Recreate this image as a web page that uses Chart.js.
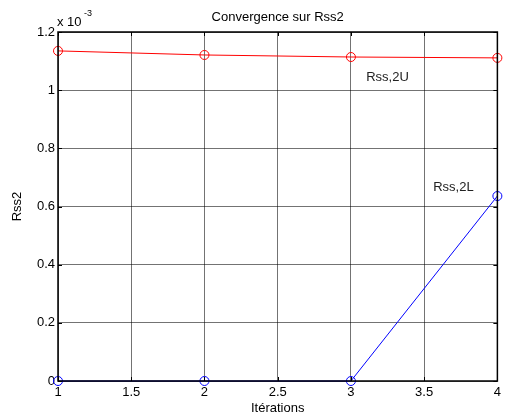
<!DOCTYPE html>
<html>
<head>
<meta charset="utf-8">
<script src="https://cdn.jsdelivr.net/npm/chart.js@4"></script>
<style>
  body { margin: 0; background: #fff; }
  canvas { display: block; }
</style>
</head>
<body>
<canvas id="rssChart" width="505" height="418"></canvas>
<script>
const iterations = [1, 2, 3, 4]
const rss2U = [1.135e-3, 1.121e-3, 1.114e-3, 1.111e-3]
const rss2L = [0, 0, 0, 0.636e-3]
const xTicks = [1, 1.5, 2, 2.5, 3, 3.5, 4]
const yTicks = [0, 0.2e-3, 0.4e-3, 0.6e-3, 0.8e-3, 1.0e-3, 1.2e-3]
const labels = [
  { text: 'Rss,2U', x: 3.25, y: 1.045e-3 },
  { text: 'Rss,2L', x: 3.7, y: 0.667e-3 }
]

const FONT = '"Liberation Sans", Arial, sans-serif'

const matlabFrame = {
  id: 'matlabFrame',
  afterDatasetsDraw(chart) {
    const ctx = chart.ctx
    const a = chart.chartArea
    const xs = chart.scales.x
    const ys = chart.scales.y
    ctx.save()
    // little inward ticks
    ctx.strokeStyle = '#000'
    ctx.lineWidth = 1
    ctx.beginPath()
    xTicks.forEach(v => {
      const px = Math.round(xs.getPixelForValue(v)) + 0.5
      ctx.moveTo(px, a.bottom); ctx.lineTo(px, a.bottom - 4)
      ctx.moveTo(px, a.top); ctx.lineTo(px, a.top + 4)
    })
    yTicks.forEach(v => {
      const py = Math.round(ys.getPixelForValue(v)) + 0.5
      ctx.moveTo(a.left, py); ctx.lineTo(a.left + 4, py)
      ctx.moveTo(a.right, py); ctx.lineTo(a.right - 4, py)
    })
    ctx.stroke()
    // box
    ctx.lineWidth = 1.5
    ctx.strokeRect(a.left, a.top, a.right - a.left, a.bottom - a.top)

    ctx.fillStyle = '#222'
    ctx.textBaseline = 'middle'
    ctx.textAlign = 'center'
    ctx.font = '13px ' + FONT
    labels.forEach(l => {
      ctx.fillText(l.text, xs.getPixelForValue(l.x), ys.getPixelForValue(l.y))
    })

    // title and axis titles
    ctx.fillStyle = '#000'
    ctx.font = '13px ' + FONT
    ctx.fillText('Convergence sur Rss2', (a.left + a.right) / 2, 17)
    ctx.fillText('Itérations', (a.left + a.right) / 2, 408)
    ctx.save()
    ctx.translate(17, (a.top + a.bottom) / 2)
    ctx.rotate(-Math.PI / 2)
    ctx.fillText('Rss2', 0, 0)
    ctx.restore()

    // exponent
    ctx.textAlign = 'left'
    ctx.font = '13px ' + FONT
    ctx.fillText('x 10', 57, 22)
    ctx.font = '9px ' + FONT
    ctx.fillText('-3', 84, 14)
    ctx.restore()
  }
}

new Chart(document.getElementById('rssChart'), {
  type: 'line',
  data: {
    datasets: [
      {
        label: 'Rss,2U',
        data: iterations.map((x, i) => ({ x: x, y: rss2U[i] })),
        borderColor: '#ff0000',
        backgroundColor: 'rgba(0,0,0,0)',
        pointBorderColor: '#ff0000',
        pointStyle: 'circle',
        pointRadius: 4.5,
        pointBorderWidth: 1,
        borderWidth: 1,
        tension: 0
      },
      {
        label: 'Rss,2L',
        data: iterations.map((x, i) => ({ x: x, y: rss2L[i] })),
        borderColor: '#0000ff',
        backgroundColor: 'rgba(0,0,0,0)',
        pointBorderColor: '#0000ff',
        pointStyle: 'circle',
        pointRadius: 4.5,
        pointBorderWidth: 1,
        borderWidth: 1,
        tension: 0
      }
    ]
  },
  options: {
    responsive: false,
    animation: false,
    clip: false,
    layout: { padding: { top: 32, right: 5, left: 0, bottom: 0 } },
    plugins: {
      legend: { display: false },
      tooltip: { enabled: false }
    },
    scales: {
      x: {
        type: 'linear',
        min: 1,
        max: 4,
        afterFit: s => { s.height = 37 },
        afterBuildTicks: s => { s.ticks = xTicks.map(v => ({ value: v })) },
        grid: { color: 'rgba(0,0,0,0.55)', lineWidth: 1, drawTicks: false },
        border: { display: false },
        ticks: {
          color: '#000',
          padding: 4,
          font: { family: FONT, size: 13 },
          callback: v => String(v)
        }
      },
      y: {
        type: 'linear',
        min: 0,
        max: 1.2e-3,
        afterFit: s => { s.width = 58 },
        afterBuildTicks: s => { s.ticks = yTicks.map(v => ({ value: v })) },
        grid: { color: 'rgba(0,0,0,0.55)', lineWidth: 1, drawTicks: false },
        border: { display: false },
        ticks: {
          color: '#000',
          padding: 3,
          font: { family: FONT, size: 13 },
          callback: v => String(Math.round(v * 1e4) / 10)
        }
      }
    }
  },
  plugins: [matlabFrame]
})
</script>
</body>
</html>
